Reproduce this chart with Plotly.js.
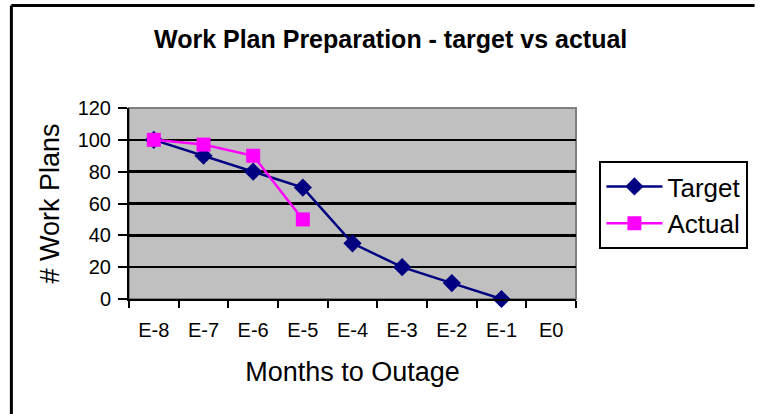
<!DOCTYPE html>
<html>
<head>
<meta charset="utf-8">
<script src="https://cdn.plot.ly/plotly-3.0.1.min.js"></script>
<style>
  html, body { margin: 0; padding: 0; background: #ffffff; overflow: hidden; }
  #chart { width: 760px; height: 414px; }
</style>
</head>
<body>
<div id="chart"></div>
<script>
const categories = ["E-8", "E-7", "E-6", "E-5", "E-4", "E-3", "E-2", "E-1", "E0"];
const targetValues = [100, 90, 80, 70, 35, 20, 10, 0];
const actualValues = [100, 97, 90, 50];
const seriesNames = ["Target", "Actual"];
const chartTitle = "Work Plan Preparation - target vs actual";
const xTitle = "Months to Outage";
const yTitle = "# Work Plans";
const yTicks = [0, 20, 40, 60, 80, 100, 120];

const font = "Arial, 'Liberation Sans', sans-serif";

const W = 760, H = 414;
const M = { l: 129, r: 173, t: 108, b: 115 };
const pw = W - M.l - M.r, ph = H - M.t - M.b;
// chart frame (left & top edges visible in the reference), in paper units
const fx = (8.5 - M.l) / pw, fy = 1 + (M.t - 5.5) / ph;
const fx2 = (W + 10 - M.l) / pw, fy2 = -(M.b + 10) / ph;

const traces = [
  {
    type: "scatter", mode: "lines+markers", name: seriesNames[0],
    x: categories.slice(0, targetValues.length), y: targetValues,
    line: { color: "#000080", width: 2.5 },
    marker: { symbol: "diamond", size: 14, color: "#000080" },
    cliponaxis: false
  },
  {
    type: "scatter", mode: "lines+markers", name: seriesNames[1],
    x: categories.slice(0, actualValues.length), y: actualValues,
    line: { color: "#FF00FF", width: 2.5 },
    marker: { symbol: "square", size: 14, color: "#FF00FF" },
    cliponaxis: false
  }
];

const layout = {
  width: W, height: H,
  margin: M,
  paper_bgcolor: "#ffffff",
  plot_bgcolor: "#C0C0C0",
  font: { family: font, color: "#000" },
  title: {
    text: "<b>" + chartTitle + "</b>",
    font: { family: font, size: 25, color: "#000" },
    x: 0.514, xanchor: "center", y: 0.905, yanchor: "middle"
  },
  showlegend: true,
  legend: {
    x: (611 - M.l) / pw, xanchor: "left", y: (H - M.b - 161) / ph, yanchor: "top",
    bordercolor: "#000", borderwidth: 2, bgcolor: "#fff",
    font: { family: font, size: 26, color: "#000" },
    itemwidth: 56, tracegroupgap: 0
  },
  xaxis: {
    type: "category", categoryorder: "array", categoryarray: categories,
    range: [-0.5, categories.length - 0.5],
    tickson: "boundaries", ticks: "outside", ticklen: 7, tickwidth: 2, tickcolor: "#000",
    ticklabelstandoff: 12,
    showline: true, linecolor: "#000", linewidth: 2,
    showgrid: false, zeroline: false,
    tickfont: { family: font, size: 20, color: "#000" },
    title: { text: xTitle, font: { family: font, size: 27, color: "#000" }, standoff: 22 },
    fixedrange: true
  },
  yaxis: {
    range: [0, 120], tickvals: yTicks,
    ticks: "outside", ticklen: 9, tickwidth: 2, tickcolor: "#000",
    ticklabelstandoff: 3,
    showline: true, linecolor: "#000", linewidth: 2,
    showgrid: true, gridcolor: "#000", gridwidth: 2.5,
    zeroline: false,
    tickfont: { family: font, size: 20, color: "#000" },
    title: { text: yTitle, font: { family: font, size: 27, color: "#000" }, standoff: 10 },
    fixedrange: true
  },
  shapes: [
    { type: "rect", xref: "paper", yref: "paper", x0: 0, x1: 1, y0: 0, y1: 1,
      line: { color: "#808080", width: 2 }, fillcolor: "rgba(0,0,0,0)", layer: "between" },
    { type: "line", xref: "paper", yref: "paper", x0: fx, x1: fx, y0: fy, y1: fy2,
      line: { color: "#000", width: 3 }, layer: "above" },
    { type: "line", xref: "paper", yref: "paper", x0: fx, x1: fx2, y0: fy, y1: fy,
      line: { color: "#000", width: 3 }, layer: "above" }
  ]
};

Plotly.newPlot("chart", traces, layout, { displayModeBar: false, staticPlot: true });
</script>
</body>
</html>
